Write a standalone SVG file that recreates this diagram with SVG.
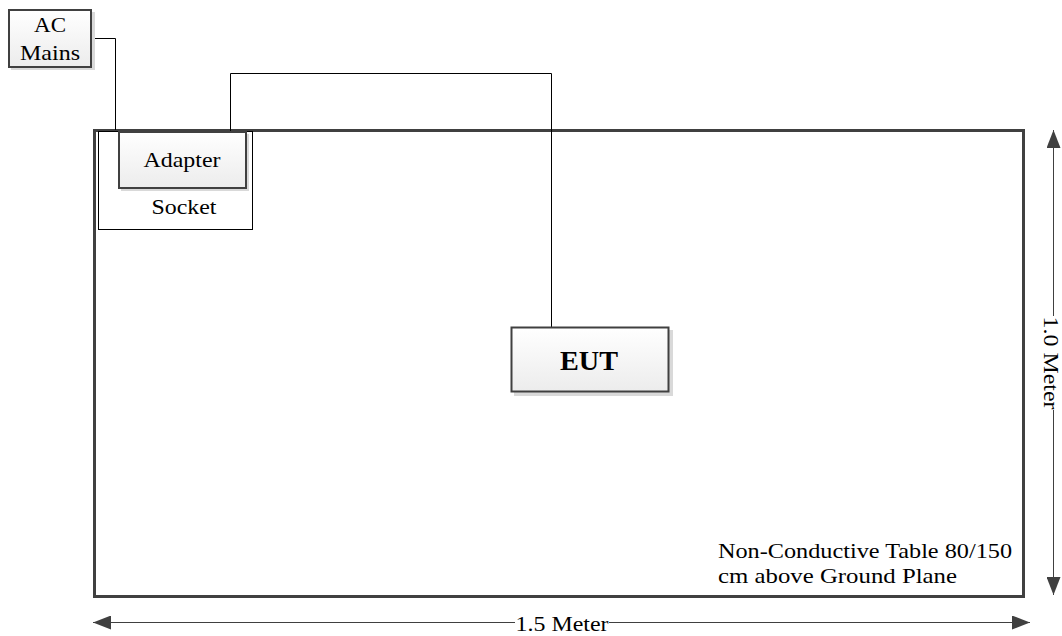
<svg xmlns="http://www.w3.org/2000/svg" width="1062" height="636" viewBox="0 0 1062 636">
<defs>
<linearGradient id="g" x1="0" y1="0" x2="0" y2="1">
<stop offset="0" stop-color="#ffffff"/>
<stop offset="1" stop-color="#ececec"/>
</linearGradient>
<marker id="ah" viewBox="0 0 18 14" refX="18" refY="7" markerWidth="18" markerHeight="14" markerUnits="userSpaceOnUse" orient="auto-start-reverse">
<path d="M0,0 L18,7 L0,14 Z" fill="#404040"/>
</marker>
</defs>
<style>
text{font-family:"Liberation Serif","Times New Roman",serif;fill:#000}
.t{font-size:22px}
.box{fill:url(#g);stroke:#404040;stroke-width:2}
.sh{fill:#d9d9d9}
.wire{fill:none;stroke:#000;stroke-width:1}
.dim{fill:none;stroke:#404040;stroke-width:1}
</style>
<rect width="1062" height="636" fill="#fff"/>
<g id="table">
<rect x="94.5" y="130.5" width="929" height="466" fill="#fff" stroke="#404040" stroke-width="3"/>
<text class="t" x="718" y="558" textLength="294" lengthAdjust="spacingAndGlyphs">Non-Conductive Table 80/150</text>
<text class="t" x="718" y="583" textLength="239" lengthAdjust="spacingAndGlyphs">cm above Ground Plane</text>
</g>
<g id="connectors">
<polyline class="wire" points="92,38.5 115.5,38.5 115.5,130"/>
<polyline class="wire" points="230.5,131 230.5,73.5 551.5,73.5 551.5,327"/>
</g>
<g id="ac-mains">
<rect class="sh" x="11" y="12" width="84" height="58"/>
<rect class="box" x="9" y="10" width="82" height="57"/>
<text class="t" x="50" y="32" text-anchor="middle" textLength="32" lengthAdjust="spacingAndGlyphs">AC</text>
<text class="t" x="50" y="60" text-anchor="middle" textLength="60" lengthAdjust="spacingAndGlyphs">Mains</text>
</g>
<g id="socket">
<rect x="98.5" y="131.5" width="154" height="98" fill="#fff" stroke="#000" stroke-width="1"/>
<text class="t" x="184" y="214" text-anchor="middle" textLength="65" lengthAdjust="spacingAndGlyphs">Socket</text>
</g>
<g id="adapter">
<rect class="sh" x="121" y="134" width="128" height="57"/>
<rect class="box" x="119" y="132" width="127" height="56"/>
<text class="t" x="182" y="167" text-anchor="middle" textLength="77" lengthAdjust="spacingAndGlyphs">Adapter</text>
</g>
<g id="eut">
<rect class="sh" x="514" y="330" width="159" height="66"/>
<rect class="box" x="511.5" y="327.5" width="157" height="64"/>
<text x="589" y="370" text-anchor="middle" font-size="27" font-weight="bold" textLength="58" lengthAdjust="spacingAndGlyphs">EUT</text>
</g>
<g id="dim-height">
<line class="dim" x1="1053.5" y1="316" x2="1053.5" y2="130" marker-end="url(#ah)"/>
<line class="dim" x1="1053.5" y1="410" x2="1053.5" y2="595" marker-end="url(#ah)"/>
<text class="t" transform="translate(1044,363) rotate(90)" text-anchor="middle" textLength="93" lengthAdjust="spacingAndGlyphs">1.0 Meter</text>
</g>
<g id="dim-width">
<line class="dim" x1="515" y1="622.5" x2="93" y2="622.5" marker-end="url(#ah)"/>
<line class="dim" x1="609" y1="622.5" x2="1030" y2="622.5" marker-end="url(#ah)"/>
<text class="t" x="562" y="631" text-anchor="middle" textLength="93" lengthAdjust="spacingAndGlyphs">1.5 Meter</text>
</g>
</svg>
